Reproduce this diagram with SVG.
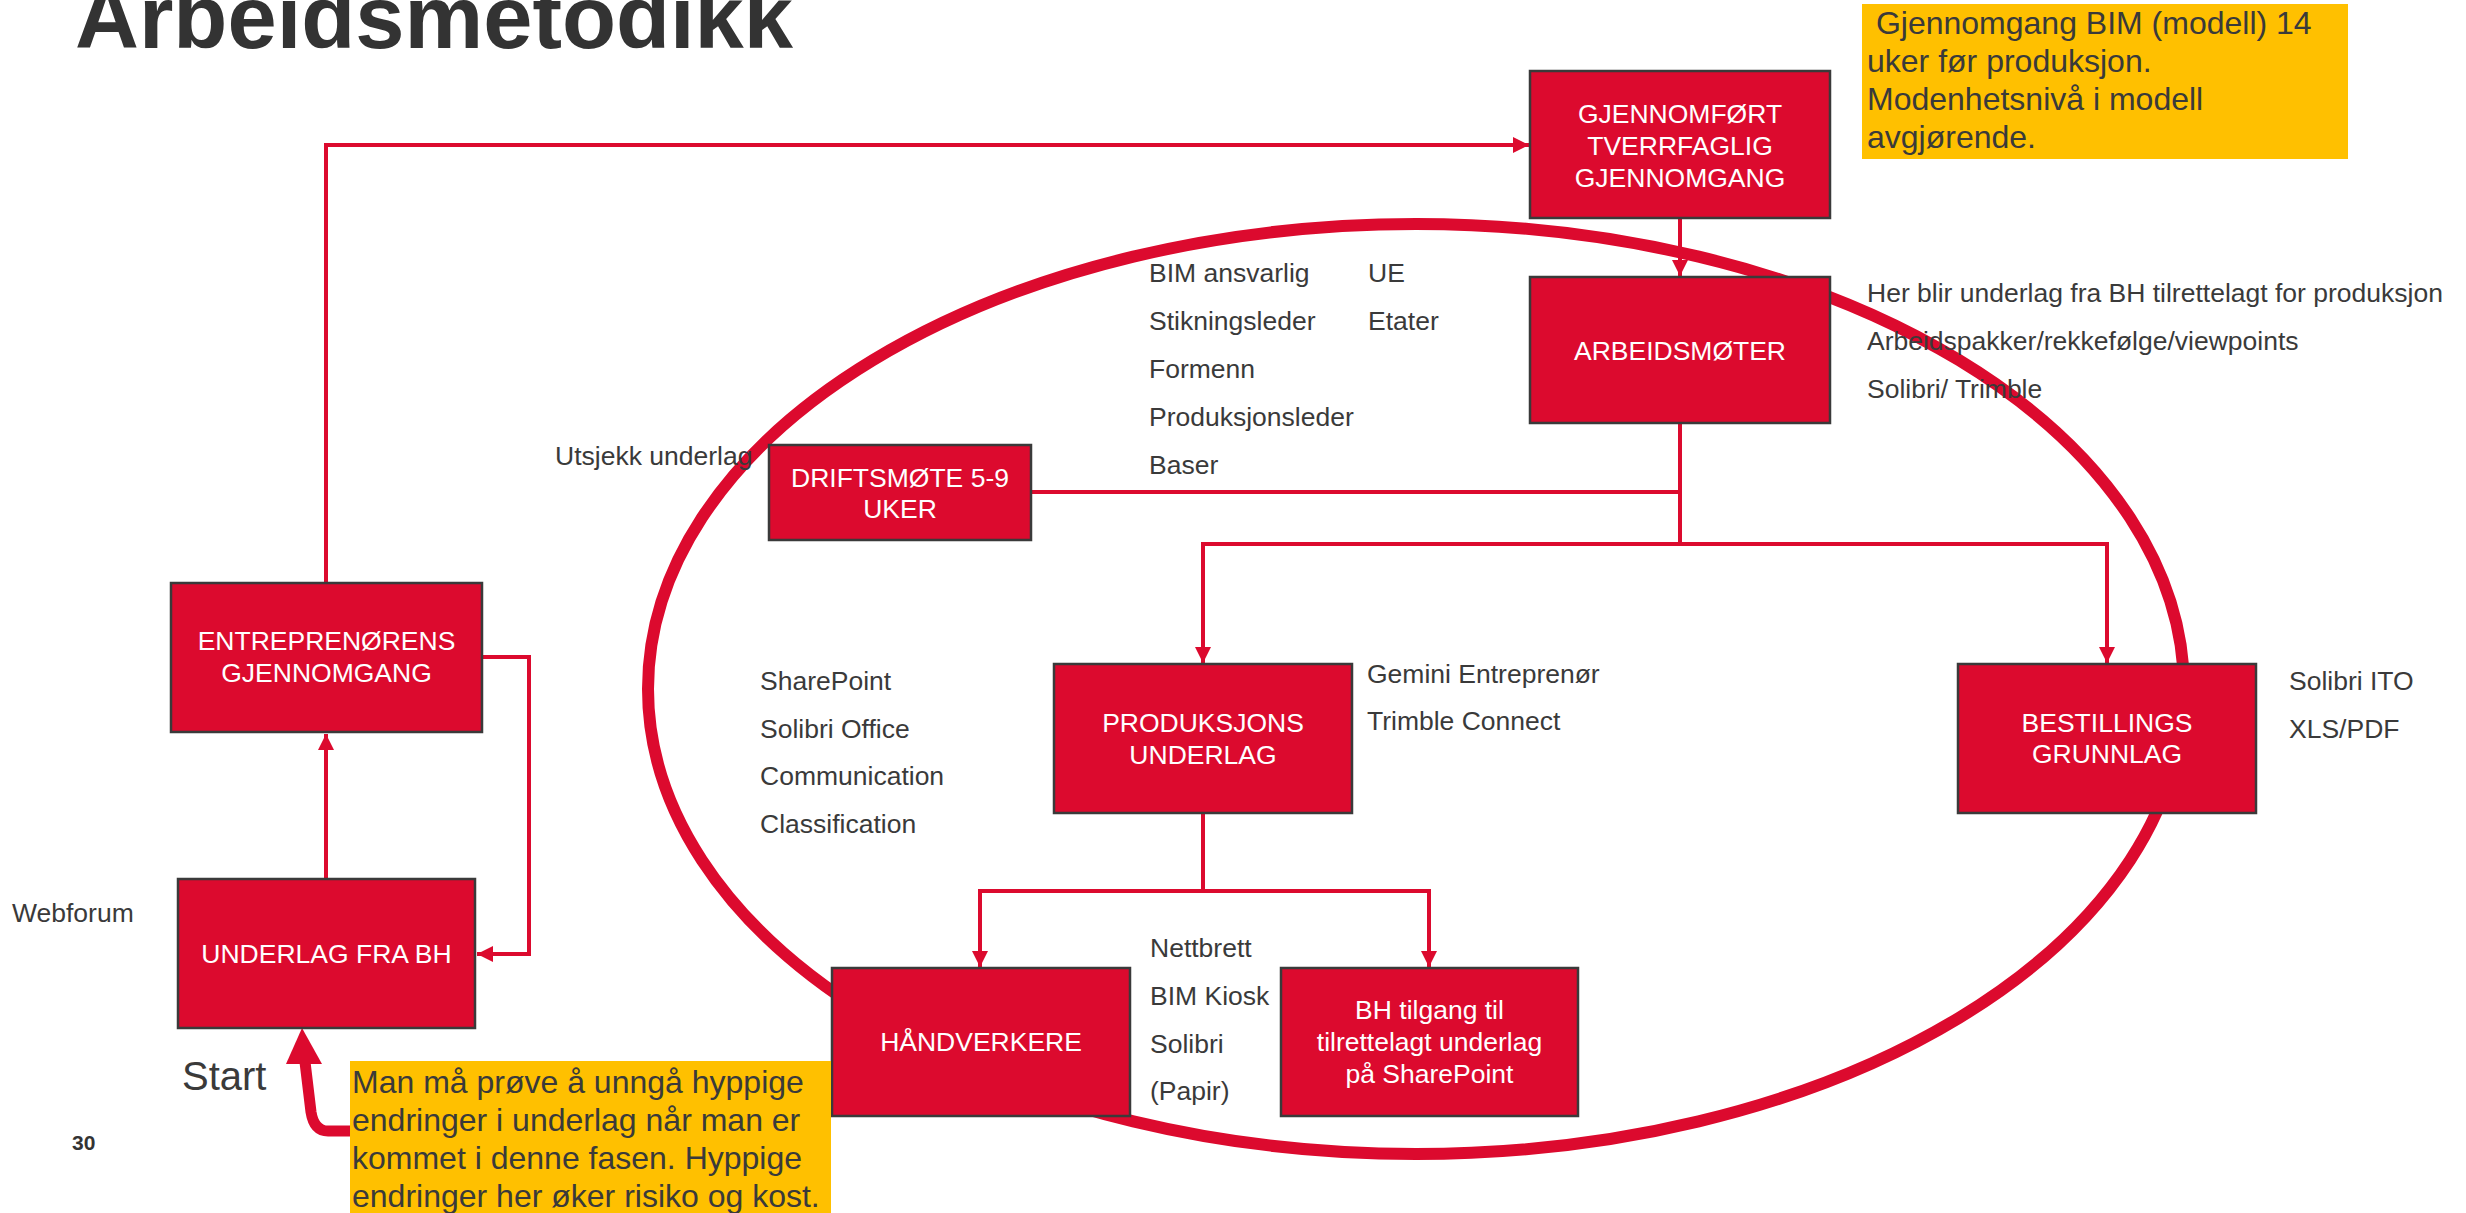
<svg xmlns="http://www.w3.org/2000/svg" width="2466" height="1213" viewBox="0 0 2466 1213">
<defs>
<style>
.box{fill:#DC0A2E;stroke:#3a3a3a;stroke-width:2.5}
.bt{font-family:"Liberation Sans",Arial,sans-serif;font-size:26.5px;fill:#ffffff;text-anchor:middle}
.lb{font-family:"Liberation Sans",Arial,sans-serif;font-size:26.5px;fill:#3a3a3a}
.yt{font-family:"Liberation Sans",Arial,sans-serif;font-size:32px;fill:#3a3a3a}
.con{fill:none;stroke:#DC0A2E;stroke-width:4}
</style>
<marker id="ah" markerUnits="userSpaceOnUse" markerWidth="16" markerHeight="16" refX="16" refY="8" orient="auto">
<path d="M0,0 L16,8 L0,16 z" fill="#DC0A2E"/>
</marker>
</defs>
<rect x="0" y="0" width="2466" height="1213" fill="#ffffff"/>

<text x="75" y="48" font-family="Liberation Sans,Arial,sans-serif" font-weight="bold" font-size="88.5" fill="#333333">Arbeidsmetodikk</text>

<ellipse id="cycle" cx="1416" cy="689" rx="768" ry="465" fill="none" stroke="#DC0A2E" stroke-width="12"/>

<g id="connectors">
<path class="con" d="M326,879 L326,734" marker-end="url(#ah)"/>
<path class="con" d="M482,657 L529,657 L529,954 L477,954" marker-end="url(#ah)"/>
<path class="con" d="M326,583 L326,145 L1529,145" marker-end="url(#ah)"/>
<path class="con" d="M1680,218 L1680,276" marker-end="url(#ah)"/>
<path class="con" d="M1031,492 L1680,492"/>
<path class="con" d="M1680,423 L1680,544"/>
<path class="con" d="M1680,544 L1203,544 L1203,663" marker-end="url(#ah)"/>
<path class="con" d="M1680,544 L2107,544 L2107,663" marker-end="url(#ah)"/>
<path class="con" d="M1203,813 L1203,891"/>
<path class="con" d="M1203,891 L980,891 L980,967" marker-end="url(#ah)"/>
<path class="con" d="M1203,891 L1429,891 L1429,967" marker-end="url(#ah)"/>
<g id="start-arrow">
<path d="M351,1131 L328,1131 Q314,1131 311,1112 L305,1062" fill="none" stroke="#DC0A2E" stroke-width="11"/>
<polygon points="302,1028 286,1064 322,1064" fill="#DC0A2E"/>
</g>
</g>

<g id="gjennomfort">
<rect class="box" x="1530" y="71" width="300" height="147"/>
<text class="bt" x="1680" y="123">GJENNOMFØRT</text>
<text class="bt" x="1680" y="155">TVERRFAGLIG</text>
<text class="bt" x="1680" y="187">GJENNOMGANG</text>
</g>
<g id="arbeidsmoter">
<rect class="box" x="1530" y="277" width="300" height="146"/>
<text class="bt" x="1680" y="360">ARBEIDSMØTER</text>
</g>
<g id="driftsmote">
<rect class="box" x="769" y="445" width="262" height="95"/>
<text class="bt" x="900" y="487">DRIFTSMØTE 5-9</text>
<text class="bt" x="900" y="518">UKER</text>
</g>
<g id="entreprenorens">
<rect class="box" x="171" y="583" width="311" height="149"/>
<text class="bt" x="326.5" y="650">ENTREPRENØRENS</text>
<text class="bt" x="326.5" y="682">GJENNOMGANG</text>
</g>
<g id="underlag-bh">
<rect class="box" x="178" y="879" width="297" height="149"/>
<text class="bt" x="326.5" y="963">UNDERLAG FRA BH</text>
</g>
<g id="produksjons">
<rect class="box" x="1054" y="664" width="298" height="149"/>
<text class="bt" x="1203" y="732">PRODUKSJONS</text>
<text class="bt" x="1203" y="764">UNDERLAG</text>
</g>
<g id="bestillings">
<rect class="box" x="1958" y="664" width="298" height="149"/>
<text class="bt" x="2107" y="732">BESTILLINGS</text>
<text class="bt" x="2107" y="763">GRUNNLAG</text>
</g>
<g id="handverkere">
<rect class="box" x="832" y="968" width="298" height="148"/>
<text class="bt" x="981" y="1051">HÅNDVERKERE</text>
</g>
<g id="bh-tilgang">
<rect class="box" x="1281" y="968" width="297" height="148"/>
<text class="bt" x="1429.5" y="1019">BH tilgang til</text>
<text class="bt" x="1429.5" y="1051">tilrettelagt underlag</text>
<text class="bt" x="1429.5" y="1083">på SharePoint</text>
</g>

<g id="note-top">
<rect x="1862" y="4" width="486" height="155" fill="#FFC000"/>
<text class="yt" x="1867" y="34" xml:space="preserve"> Gjennomgang BIM (modell) 14</text>
<text class="yt" x="1867" y="72">uker før produksjon.</text>
<text class="yt" x="1867" y="110">Modenhetsnivå i modell</text>
<text class="yt" x="1867" y="148">avgjørende.</text>
</g>
<g id="note-bottom">
<rect x="350" y="1061" width="481" height="152" fill="#FFC000"/>
<text class="yt" x="352" y="1093">Man må prøve å unngå hyppige</text>
<text class="yt" x="352" y="1131">endringer i underlag når man er</text>
<text class="yt" x="352" y="1169">kommet i denne fasen. Hyppige</text>
<text class="yt" x="352" y="1207">endringer her øker risiko og kost.</text>
</g>

<g id="labels">
<text class="lb" x="1867" y="302">Her blir underlag fra BH tilrettelagt for produksjon</text>
<text class="lb" x="1867" y="350">Arbeidspakker/rekkefølge/viewpoints</text>
<text class="lb" x="1867" y="398">Solibri/ Trimble</text>
<text class="lb" x="1149" y="282">BIM ansvarlig</text>
<text class="lb" x="1368" y="282">UE</text>
<text class="lb" x="1149" y="330">Stikningsleder</text>
<text class="lb" x="1368" y="330">Etater</text>
<text class="lb" x="1149" y="378">Formenn</text>
<text class="lb" x="1149" y="426">Produksjonsleder</text>
<text class="lb" x="1149" y="474">Baser</text>
<text class="lb" x="555" y="465">Utsjekk underlag</text>
<text class="lb" x="760" y="690">SharePoint</text>
<text class="lb" x="760" y="738">Solibri Office</text>
<text class="lb" x="760" y="785">Communication</text>
<text class="lb" x="760" y="833">Classification</text>
<text class="lb" x="1367" y="683">Gemini Entreprenør</text>
<text class="lb" x="1367" y="730">Trimble Connect</text>
<text class="lb" x="2289" y="690">Solibri ITO</text>
<text class="lb" x="2289" y="738">XLS/PDF</text>
<text class="lb" x="1150" y="957">Nettbrett</text>
<text class="lb" x="1150" y="1005">BIM Kiosk</text>
<text class="lb" x="1150" y="1053">Solibri</text>
<text class="lb" x="1150" y="1100">(Papir)</text>
<text class="lb" x="12" y="922">Webforum</text>
<text class="lb" x="182" y="1090" style="font-size:40px">Start</text>
<text x="72" y="1150" font-family="Liberation Sans,Arial,sans-serif" font-weight="bold" font-size="21" fill="#333333">30</text>
</g>
</svg>
